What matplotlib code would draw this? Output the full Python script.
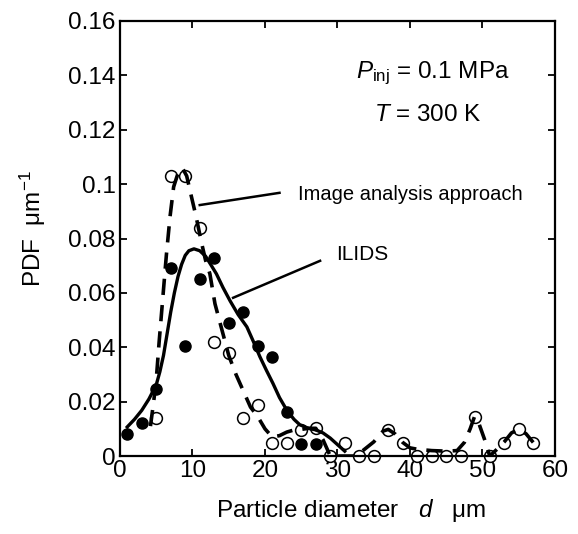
import matplotlib
matplotlib.use("Agg")
import matplotlib.pyplot as plt

plt.rcParams['font.family'] = ['Liberation Sans', 'DejaVu Sans']
plt.rcParams['mathtext.fontset'] = 'custom'
plt.rcParams['mathtext.rm'] = 'Liberation Sans'
plt.rcParams['mathtext.it'] = 'Liberation Sans:italic'

# ILIDS measured points (filled)
ilids_x = [1, 3, 5, 7, 9, 11, 13, 15, 17, 19, 21, 23, 25, 27]
ilids_y = [0.0081, 0.0122, 0.0246, 0.069, 0.0406, 0.065, 0.073, 0.0488,
           0.0528, 0.0406, 0.0365, 0.0163, 0.0044, 0.0044]

# image analysis points (open)
img_x = [5, 7, 9, 11, 13, 15, 17, 19, 21, 23, 25, 27, 29, 31, 33, 35, 37, 39,
         41, 43, 45, 47, 49, 51, 53, 55, 57]
img_y = [0.0141, 0.103, 0.103, 0.084, 0.042, 0.0378, 0.0141, 0.0188, 0.0047,
         0.0047, 0.0094, 0.0102, 0.0, 0.0049, 0.0, 0.0, 0.0096, 0.0047,
         0.0, 0.0, 0.0, 0.0, 0.0145, 0.0, 0.0049, 0.0099, 0.0049]

# ILIDS fitted curve (solid)
fit_x = [1.0, 2.0, 3.0, 4.0, 5.0, 5.5, 6.0, 6.5, 7.0, 7.5, 8.0, 8.5, 9.0,
         9.5, 10.2, 11.0, 11.8, 12.5, 13.3, 14.2, 15.2, 16.3, 17.5, 18.5,
         19.3, 20.2, 21.1, 22.0, 23.0, 24.0, 24.8, 26.0, 27.0, 28.0, 29.0,
         30.0, 31.0]
fit_y = [0.0107, 0.0135, 0.0168, 0.021, 0.0262, 0.031, 0.037, 0.045, 0.053,
         0.06, 0.066, 0.0705, 0.0738, 0.0755, 0.0762, 0.0755, 0.0735,
         0.0705, 0.067, 0.062, 0.057, 0.052, 0.0475, 0.0415, 0.0365, 0.0315,
         0.0267, 0.0215, 0.0169, 0.0135, 0.0115, 0.0102, 0.0096, 0.0085,
         0.0066, 0.0042, 0.0018]

# image analysis smoothed curve (dashed)
dash_x = [4.2, 4.6, 5.0, 5.4, 5.9, 6.4, 6.9, 7.4, 8.0, 8.6, 9.2, 9.8, 10.5,
          11.2, 11.8, 12.4, 13.1, 14.1, 15.0, 16.0, 17.0, 18.0, 19.0, 20.0,
          21.0, 22.0, 23.0, 24.0, 25.0, 26.0, 27.0, 28.0, 29.0, 31.0, 32.5,
          33.5, 35.0, 36.3, 37.0, 38.0, 39.0, 40.0, 41.0, 43.0, 45.0, 46.5,
          47.5, 48.3, 48.9, 49.5, 50.3, 51.0, 52.0, 53.0, 54.0, 55.0, 56.0,
          57.0]
dash_y = [0.011, 0.019, 0.028, 0.042, 0.058, 0.074, 0.088, 0.099, 0.104,
          0.106, 0.103, 0.096, 0.088, 0.079, 0.072, 0.067, 0.056, 0.046,
          0.037, 0.03, 0.024, 0.018, 0.0145, 0.01, 0.007, 0.0075, 0.0088,
          0.0096, 0.0098, 0.0102, 0.0102, 0.006, 0.0, 0.0, 0.0, 0.002,
          0.0052, 0.0092, 0.0098, 0.008, 0.005, 0.003, 0.0025, 0.002, 0.0018,
          0.002, 0.005, 0.01, 0.0145, 0.012, 0.006, 0.0, 0.0025, 0.0052,
          0.0085, 0.0099, 0.0082, 0.005]

xticks = [0, 10, 20, 30, 40, 50, 60]
yticks = [0, 0.02, 0.04, 0.06, 0.08, 0.1, 0.12, 0.14, 0.16]
ytick_labels = ['0', '0.02', '0.04', '0.06', '0.08', '0.1', '0.12', '0.14', '0.16']

fig = plt.figure(figsize=(5.78, 5.34), dpi=100)
ax = fig.add_axes([0.2076, 0.146, 0.7526, 0.8147])

ax.plot(ilids_x, ilids_y, 'o', color='k', markersize=8, zorder=2, clip_on=False)
ax.plot(img_x, img_y, 'o', mfc='white', mec='k', mew=1.1, markersize=8.5,
        zorder=2, clip_on=False)
ax.plot(fit_x, fit_y, '-', color='k', lw=2.4, zorder=3)
ax.plot(dash_x, dash_y, color='k', lw=2.6, dashes=(4.5, 2.8), zorder=3)

# leader lines
ax.plot([11.0, 22.0], [0.0923, 0.0968], color='k', lw=1.8)
ax.plot([15.6, 27.6], [0.0582, 0.0718], color='k', lw=1.8)
ax.text(24.6, 0.0962, 'Image analysis approach', fontsize=14.5, va='center', ha='left')
ax.text(29.8, 0.0740, 'ILIDS', fontsize=15, va='center', ha='left')

ax.text(43.2, 0.1408, r'$P_{\rm inj}$ = 0.1 MPa', fontsize=17.5, ha='center', va='center')
ax.text(42.4, 0.1254, r'$T$ = 300 K', fontsize=17.5, ha='center', va='center')

ax.set_xlim(0, 60)
ax.set_ylim(0, 0.16)
ax.set_xticks(xticks)
ax.set_yticks(yticks)
ax.set_yticklabels(ytick_labels)
ax.tick_params(direction='in', length=5, width=1.3, labelsize=17.5,
               top=True, right=True, pad=3)
for s in ax.spines.values():
    s.set_linewidth(1.6)

ax.set_xlabel(r'Particle diameter   $d$   μm', fontsize=17.5)
ax.set_ylabel(r'PDF  μm$^{-1}$', fontsize=17.5)
ax.xaxis.set_label_coords(0.532, -0.095)
ax.yaxis.set_label_coords(-0.166, 0.524)

fig.savefig('out.png', dpi=100)
